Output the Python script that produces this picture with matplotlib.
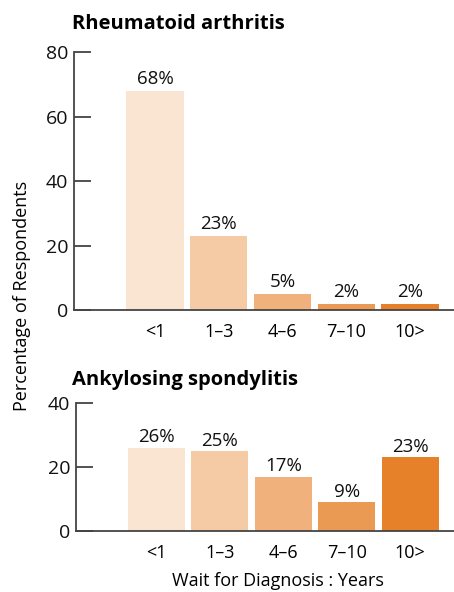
import matplotlib
matplotlib.use("Agg")
import matplotlib.pyplot as plt

plt.rcParams["font.family"] = ["Open Sans", "DejaVu Sans"]

categories = ["<1", "1\u20133", "4\u20136", "7\u201310", "10>"]
ra_values = [68, 23, 5, 2, 2]
as_values = [26, 25, 17, 9, 23]
colors = ["#FAE5D3", "#F4CBA5", "#F0B17C", "#EA9A53", "#E6812A"]

fig = plt.figure(figsize=(4.54, 5.92), dpi=100)
ax_top = fig.add_axes([0.163, 0.476, 0.837, 0.436])
ax_bot = fig.add_axes([0.167, 0.103, 0.833, 0.216])

xs = list(range(len(categories)))


def style(ax, values, ymax, ticks):
    bars = ax.bar(xs, values, width=0.9, color=colors)
    for b, v in zip(bars, values):
        ax.text(b.get_x() + b.get_width() / 2, v + ymax * 0.012, f"{v}%",
                ha="center", va="bottom", fontsize=13.5, color="#111111")
    ax.set_xlim(-1.27, 4.69)
    ax.set_ylim(0, ymax)
    ax.set_yticks(ticks)
    ax.set_xticks(xs)
    ax.set_xticklabels(categories, fontsize=13)
    ax.tick_params(axis="x", length=0, pad=9)
    ax.tick_params(axis="y", direction="in", length=12, width=1.2, labelsize=14,
                   colors="#333333", labelcolor="#111111", pad=4)
    for s in ("top", "right"):
        ax.spines[s].set_visible(False)
    for s in ("left", "bottom"):
        ax.spines[s].set_color("#444444")
        ax.spines[s].set_linewidth(1.3)


style(ax_top, ra_values, 80, [0, 20, 40, 60, 80])
style(ax_bot, as_values, 40, [0, 20, 40])

fig.text(0.158, 0.959, "Rheumatoid arthritis", ha="left", va="center",
         fontsize=14.5, fontweight="bold")
fig.text(0.158, 0.358, "Ankylosing spondylitis", ha="left", va="center",
         fontsize=14.5, fontweight="bold")
fig.text(0.048, 0.50, "Percentage of Respondents", rotation=90,
         ha="center", va="center", fontsize=13)
fig.text(0.612, 0.018, "Wait for Diagnosis : Years", ha="center",
         va="center", fontsize=13)

fig.savefig("out.png", dpi=100)
